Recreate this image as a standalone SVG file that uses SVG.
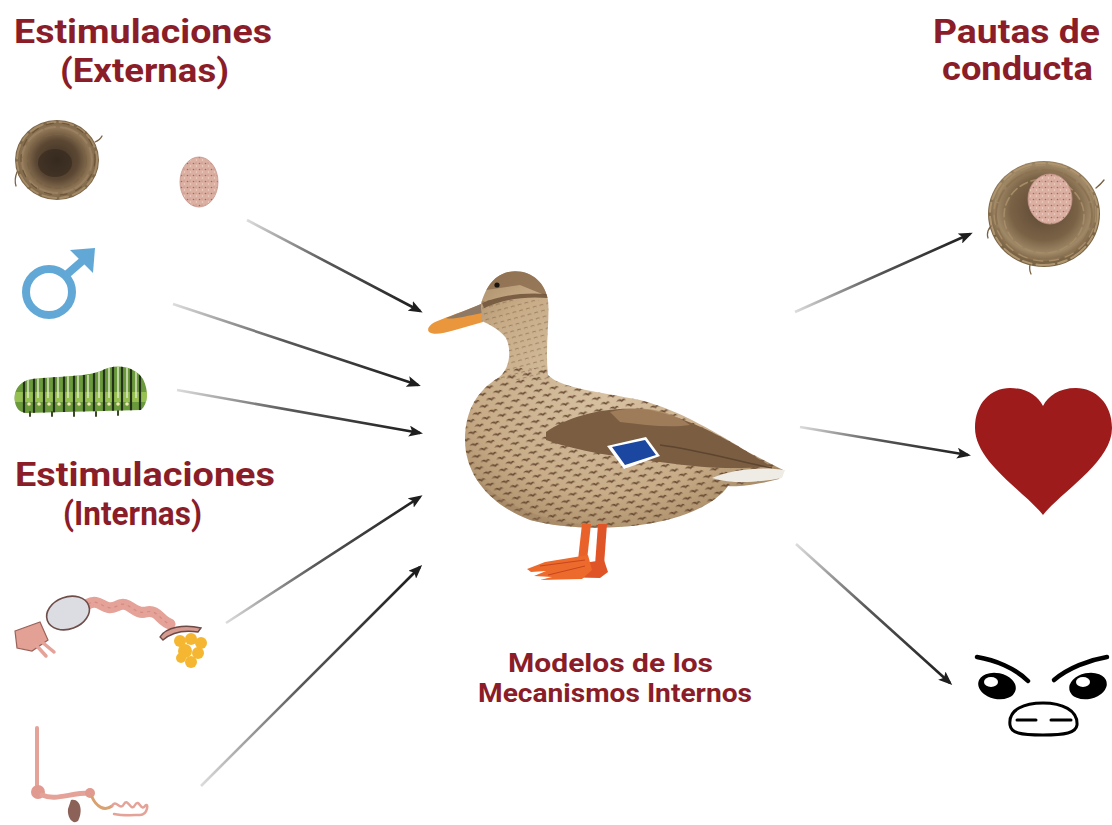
<svg xmlns="http://www.w3.org/2000/svg" width="1112" height="825" viewBox="0 0 1112 825">
  <style>
    .title { font-family: Roboto, "Liberation Sans", sans-serif; font-weight: 700; fill: #8a1d28; }
    .h1 { font-size: 33px; }
    .h2 { font-size: 26px; }
    .arrow { stroke-width: 2.6; fill: none; marker-end: url(#head); }
    .pink { stroke: #e4a298; fill: none; stroke-linecap: round; stroke-linejoin: round; }
  </style>
  <defs>
    <marker id="head" viewBox="0 0 14 11" refX="11" refY="5.5" markerWidth="14" markerHeight="11" markerUnits="userSpaceOnUse" orient="auto">
      <path d="M0,0 L14,5.5 L0,11 L3,5.5 Z" fill="#1e1e1e"/>
    </marker>
    <!-- connector fades: pale at the source, dark at the head -->
    <linearGradient id="g1" gradientUnits="userSpaceOnUse" x1="247" y1="220" x2="420" y2="311"><stop offset="0" stop-color="#dcdcdc"/><stop offset="0.45" stop-color="#5a5a5a"/><stop offset="1" stop-color="#1c1c1c"/></linearGradient>
    <linearGradient id="g2" gradientUnits="userSpaceOnUse" x1="173" y1="304" x2="418" y2="385"><stop offset="0" stop-color="#dcdcdc"/><stop offset="0.45" stop-color="#5a5a5a"/><stop offset="1" stop-color="#1c1c1c"/></linearGradient>
    <linearGradient id="g3" gradientUnits="userSpaceOnUse" x1="177" y1="390" x2="420" y2="433"><stop offset="0" stop-color="#dcdcdc"/><stop offset="0.45" stop-color="#5a5a5a"/><stop offset="1" stop-color="#1c1c1c"/></linearGradient>
    <linearGradient id="g4" gradientUnits="userSpaceOnUse" x1="226" y1="623" x2="420" y2="497"><stop offset="0" stop-color="#dcdcdc"/><stop offset="0.45" stop-color="#5a5a5a"/><stop offset="1" stop-color="#1c1c1c"/></linearGradient>
    <linearGradient id="g5" gradientUnits="userSpaceOnUse" x1="201" y1="786" x2="420" y2="567"><stop offset="0" stop-color="#dcdcdc"/><stop offset="0.45" stop-color="#5a5a5a"/><stop offset="1" stop-color="#1c1c1c"/></linearGradient>
    <linearGradient id="g6" gradientUnits="userSpaceOnUse" x1="795" y1="312" x2="970" y2="234"><stop offset="0" stop-color="#dcdcdc"/><stop offset="0.45" stop-color="#5a5a5a"/><stop offset="1" stop-color="#1c1c1c"/></linearGradient>
    <linearGradient id="g7" gradientUnits="userSpaceOnUse" x1="800" y1="427" x2="968" y2="455"><stop offset="0" stop-color="#dcdcdc"/><stop offset="0.45" stop-color="#5a5a5a"/><stop offset="1" stop-color="#1c1c1c"/></linearGradient>
    <linearGradient id="g8" gradientUnits="userSpaceOnUse" x1="796" y1="544" x2="950" y2="683"><stop offset="0" stop-color="#dcdcdc"/><stop offset="0.45" stop-color="#5a5a5a"/><stop offset="1" stop-color="#1c1c1c"/></linearGradient>

    <radialGradient id="nestFill" cx="0.5" cy="0.5" r="0.5">
      <stop offset="0" stop-color="#3e3024"/>
      <stop offset="0.5" stop-color="#5b4733"/>
      <stop offset="0.8" stop-color="#8f7656"/>
      <stop offset="1" stop-color="#7a6446"/>
    </radialGradient>
    <radialGradient id="nestFill2" cx="0.5" cy="0.45" r="0.5">
      <stop offset="0" stop-color="#5a4632"/>
      <stop offset="0.6" stop-color="#7a6246"/>
      <stop offset="0.85" stop-color="#9f8866"/>
      <stop offset="1" stop-color="#7a6446"/>
    </radialGradient>
    <pattern id="speckle" width="6" height="6" patternUnits="userSpaceOnUse">
      <rect width="6" height="6" fill="#dbb0a2"/>
      <circle cx="1.5" cy="1.5" r="0.8" fill="#a5685a"/>
      <circle cx="4.5" cy="4" r="0.7" fill="#f2d6cc"/>
      <circle cx="4" cy="1" r="0.5" fill="#b87a6a"/>
    </pattern>
    <radialGradient id="duckBody" cx="0.45" cy="0.45" r="0.6">
      <stop offset="0" stop-color="#d8c3a4"/>
      <stop offset="0.7" stop-color="#c8ac88"/>
      <stop offset="1" stop-color="#a98c68"/>
    </radialGradient>
    <pattern id="duckSpots" width="16" height="12" patternUnits="userSpaceOnUse" patternTransform="rotate(-10)">
      <path d="M1,5 Q4,1 7,4 Q9,1.5 11,4.5 Q8.5,3.5 7,6 Q4,3 1,5 Z" fill="#5f4029"/>
      <path d="M9,11 Q12,7 15,10 Q17,7.5 19,10.5 Q16.5,9.5 15,12 Q12,9 9,11 Z" fill="#5f4029"/>
      <path d="M-7,11 Q-4,7 -1,10 Q1,7.5 3,10.5 Q0.5,9.5 -1,12 Q-4,9 -7,11 Z" fill="#5f4029"/>
    </pattern>
    <pattern id="neckStreaks" width="7" height="6" patternUnits="userSpaceOnUse" patternTransform="rotate(-15)">
      <path d="M1,3 Q3,1.5 5,3" stroke="#7a5a3c" stroke-width="1" fill="none"/>
    </pattern>
    <clipPath id="duckClip">
      <path d="M481,304 C485,290 492,276 508,272 C530,268 545,282 548,300 C550,320 545,345 548,375 C560,388 600,392 640,400 C680,410 720,435 748,452 L783,470 L779,479 C760,484 740,487 728,486 C715,505 680,520 640,525 C600,530 560,528 530,520 C490,505 465,475 465,440 C465,410 478,390 498,378 C510,370 512,350 506,338 C498,328 488,324 482,321 Z"/>
    </clipPath>
    <clipPath id="catClip">
      <path d="M15,402 C13,390 20,381 32,379 C60,376 88,377 103,370 C114,364 134,365 143,379 C149,391 148,404 141,410 L26,413 C19,412 16,408 15,402 Z"/>
    </clipPath>
  </defs>

  <rect width="1112" height="825" fill="#ffffff"/>

  <!-- headings -->
  <g id="title-externas">
    <text class="title h1" x="14" y="43" textLength="258" lengthAdjust="spacingAndGlyphs">Estimulaciones</text>
    <text class="title h1" x="60" y="82" textLength="169" lengthAdjust="spacingAndGlyphs">(Externas)</text>
  </g>
  <g id="title-internas">
    <text class="title h1" x="15" y="486" textLength="260" lengthAdjust="spacingAndGlyphs">Estimulaciones</text>
    <text class="title h1" x="63" y="525" textLength="139" lengthAdjust="spacingAndGlyphs">(Internas)</text>
  </g>
  <g id="title-pautas">
    <text class="title h1" x="933" y="43" textLength="167" lengthAdjust="spacingAndGlyphs">Pautas de</text>
    <text class="title h1" x="942" y="80" textLength="151" lengthAdjust="spacingAndGlyphs">conducta</text>
  </g>
  <g id="label-modelos">
    <text class="title h2" x="508" y="672" textLength="205" lengthAdjust="spacingAndGlyphs">Modelos de los</text>
    <text class="title h2" x="478" y="702" textLength="274" lengthAdjust="spacingAndGlyphs">Mecanismos Internos</text>
  </g>

  <!-- empty nest -->
  <g id="nest">
    <ellipse cx="57" cy="160" rx="42" ry="40" fill="url(#nestFill)"/>
    <g fill="none" stroke-linecap="round">
      <ellipse cx="57" cy="160" rx="40" ry="38" stroke="#a48a66" stroke-width="2" stroke-dasharray="14 5 8 4"/>
      <ellipse cx="57" cy="160" rx="35" ry="33" stroke="#9a8060" stroke-width="2" stroke-dasharray="10 6 18 3"/>
      <ellipse cx="58" cy="159" rx="37" ry="36" stroke="#6d5638" stroke-width="1.2" stroke-dasharray="7 9"/>
      <ellipse cx="57" cy="161" rx="29" ry="27" stroke="#7a6244" stroke-width="1.5" stroke-dasharray="6 4"/>
      <path d="M17,172 Q14,180 16,186 M95,142 Q100,140 102,136" stroke="#7a6244" stroke-width="1.3"/>
    </g>
    <ellipse cx="55" cy="163" rx="17" ry="14" fill="#2f241b" opacity="0.55"/>
  </g>

  <!-- egg -->
  <g id="egg">
    <ellipse cx="199" cy="182" rx="19" ry="25" fill="url(#speckle)" stroke="#c4938a" stroke-width="0.8"/>
  </g>

  <!-- male symbol -->
  <g id="male" fill="none" stroke="#62a8d6" stroke-width="8">
    <circle cx="49" cy="292" r="23"/>
    <line x1="65" y1="276" x2="88" y2="256"/>
    <polygon points="70,250 95,248 93,273" fill="#62a8d6" stroke="none"/>
  </g>

  <!-- caterpillar -->
  <g id="caterpillar">
    <path d="M15,402 C13,390 20,381 32,379 C60,376 88,377 103,370 C114,364 134,365 143,379 C149,391 148,404 141,410 L26,413 C19,412 16,408 15,402 Z" fill="#6a9a3c"/>
    <g clip-path="url(#catClip)">
      <rect x="10" y="392" width="145" height="10" fill="#a9d05a" opacity="0.7"/>
      <g stroke="#24311a" stroke-width="2.2">
        <path d="M24,375 V415 M34,375 V415 M44,375 V415 M54,375 V415 M64,375 V415 M74,375 V415 M84,375 V415 M94,372 V415 M104,365 V415 M113,362 V415 M122,362 V415 M131,364 V415 M140,368 V415"/>
      </g>
      <g stroke="#e6eccf" stroke-width="1.4">
        <path d="M28,375 V398 M38,375 V398 M48,375 V398 M58,375 V398 M68,375 V398 M78,375 V398 M88,375 V398 M99,368 V398 M109,362 V398 M118,362 V398 M127,363 V398 M136,365 V398"/>
      </g>
      <g fill="#f0e6b0">
        <circle cx="29" cy="404" r="1.8"/><circle cx="39" cy="404" r="1.8"/><circle cx="49" cy="404" r="1.8"/><circle cx="59" cy="404" r="1.8"/><circle cx="69" cy="404" r="1.8"/><circle cx="79" cy="404" r="1.8"/><circle cx="89" cy="404" r="1.8"/><circle cx="99" cy="404" r="1.8"/><circle cx="109" cy="404" r="1.8"/><circle cx="118" cy="404" r="1.8"/><circle cx="127" cy="404" r="1.8"/>
      </g>
    </g>
    <g stroke="#3a4a22" stroke-width="2" stroke-linecap="round">
      <path d="M30,412 V416 M52,412 V416 M74,412 V416 M96,412 V416 M118,411 V415"/>
    </g>
  </g>

  <!-- ovary and oviduct -->
  <g id="ovary">
    <path d="M15,631 L40,622 L48,640 L32,651 L17,648 Z" fill="#e3a095" stroke="#9a6258" stroke-width="1.2"/>
    <g class="pink" stroke-width="3.5">
      <path d="M36,645 L46,656"/>
      <path d="M42,642 L54,652"/>
    </g>
    <path d="M88,604 C100,597 104,613 117,606 C129,599 133,615 146,612 C158,609 160,621 170,624" class="pink" stroke-width="11"/>
    <path d="M88,604 C100,597 104,613 117,606 C129,599 133,615 146,612 C158,609 160,621 170,624" fill="none" stroke="#d58b80" stroke-width="1.2" stroke-dasharray="3 4"/>
    <ellipse cx="68" cy="613" rx="22" ry="16" transform="rotate(-20 68 613)" fill="#dcdde3" stroke="#6e4c48" stroke-width="1.6"/>
    <path d="M160,637 C166,627 184,624 201,628 L198,632 C185,630 172,632 163,640 Z" fill="#d59a90" stroke="#6b4a46" stroke-width="1.4"/>
    <g fill="#f5b731">
      <circle cx="180" cy="641" r="6"/>
      <circle cx="191" cy="639" r="6"/>
      <circle cx="201" cy="643" r="6"/>
      <circle cx="185" cy="651" r="7"/>
      <circle cx="198" cy="653" r="6"/>
      <circle cx="191" cy="662" r="6"/>
      <circle cx="181" cy="658" r="5"/>
    </g>
  </g>

  <!-- digestive tract -->
  <g id="digestive">
    <path d="M37,728 V788" class="pink" stroke-width="4"/>
    <circle cx="38" cy="792" r="7" fill="#e09a90"/>
    <path d="M42,795 C55,801 70,793 89,793" class="pink" stroke-width="5"/>
    <circle cx="90" cy="793" r="5" fill="#e09a90"/>
    <path d="M71,800 C81,798 83,812 78,821 C73,825 67,818 68,809 Z" fill="#8c6258"/>
    <path d="M92,797 C96,806 104,812 112,806" fill="none" stroke="#d9a070" stroke-width="3" stroke-linecap="round"/>
    <path d="M112,806 C116,798 120,812 124,804 C128,797 131,813 135,805 C139,798 141,812 145,806 C149,801 148,815 140,815 C134,815 124,816 114,814" class="pink" stroke-width="2.5"/>
  </g>

  <!-- mallard hen -->
  <g id="duck">
    <!-- bill -->
    <path d="M481,304 C470,309 455,314 440,320 C431,323 426,328 429,332 C433,335 442,334 455,330 L483,322 Z" fill="#e9963c"/>
    <path d="M481,304 C470,309 458,313 446,318 C452,320 466,316 482,313 Z" fill="#8e7866"/>
    <!-- body -->
    <path d="M481,304 C485,290 492,276 508,272 C530,268 545,282 548,300 C550,320 545,345 548,375 C560,388 600,392 640,400 C680,410 720,435 748,452 L783,470 L779,479 C760,484 740,487 728,486 C715,505 680,520 640,525 C600,530 560,528 530,520 C490,505 465,475 465,440 C465,410 478,390 498,378 C510,370 512,350 506,338 C498,328 488,324 482,321 Z" fill="url(#duckBody)"/>
    <g clip-path="url(#duckClip)">
      <rect x="480" y="300" width="80" height="80" fill="url(#neckStreaks)" opacity="0.55"/>
      <rect x="460" y="368" width="330" height="170" fill="url(#duckSpots)" opacity="0.9"/>
      <!-- head and neck tones -->
      <path d="M486,290 C492,276 505,270 520,271 C535,273 545,283 547,296 L520,285 Z" fill="#8a6c4c" opacity="0.8"/>
      <path d="M482,303 C500,296 520,292 548,294 L548,298 C522,296 502,300 484,308 Z" fill="#6e5238" opacity="0.85"/>
      <!-- wing -->
      <path d="M546,432 C570,415 610,405 650,410 C690,418 730,440 770,466 C740,470 700,468 660,462 C620,457 580,452 546,440 Z" fill="#7b5d42"/>
      <path d="M610,412 C640,404 670,410 690,425 C670,428 645,425 620,422 Z" fill="#a8845f" opacity="0.8"/>
      <path d="M660,445 C700,450 740,462 772,468" stroke="#5e4530" stroke-width="1.5" fill="none"/>
      <!-- underside shading -->
      <path d="M470,470 C500,510 560,530 640,526 C690,520 720,505 730,486 L730,535 L460,535 Z" fill="#9c7f5e" opacity="0.35"/>
    </g>
    <!-- speculum -->
    <path d="M607,446 L646,437 L660,456 L624,469 Z" fill="#ffffff"/>
    <path d="M612,447 L645,440 L656,455 L625,465 Z" fill="#1c47a0"/>
    <!-- tail feathers -->
    <path d="M712,478 C730,470 760,466 785,470 L782,478 C760,482 735,485 712,478 Z" fill="#efece6"/>
    <!-- eye -->
    <circle cx="497" cy="285" r="2.6" fill="#1a1410"/>
    <!-- legs and feet -->
    <path d="M582,524 L591,524 L587,560 L578,560 Z" fill="#e8622a"/>
    <path d="M598,524 L607,524 L604,565 L595,565 Z" fill="#df5528"/>
    <path d="M604,560 L562,566 L548,570 L552,573 L566,572 L556,577 L600,578 L608,572 Z" fill="#df5528"/>
    <path d="M588,555 L545,562 L527,569 L531,572 L546,571 L534,576 L552,577 L540,580 L582,579 L592,570 Z" fill="#ec6a2c"/>
    <path d="M585,560 L540,566 M585,566 L548,575" stroke="#c8461e" stroke-width="1"/>
  </g>

  <!-- nest with egg -->
  <g id="nest-egg">
    <ellipse cx="1044" cy="214" rx="56" ry="53" fill="url(#nestFill2)"/>
    <g fill="none" stroke-linecap="round">
      <ellipse cx="1044" cy="214" rx="54" ry="51" stroke="#b09670" stroke-width="2" stroke-dasharray="18 5 9 4"/>
      <ellipse cx="1044" cy="215" rx="48" ry="45" stroke="#8c7250" stroke-width="2" stroke-dasharray="12 5 20 3"/>
      <ellipse cx="1045" cy="213" rx="51" ry="48" stroke="#a58b66" stroke-width="1.4" stroke-dasharray="9 7"/>
      <ellipse cx="1044" cy="216" rx="40" ry="37" stroke="#a58b66" stroke-width="1.6" stroke-dasharray="8 4"/>
      <path d="M991,226 Q986,232 988,238 M1096,188 Q1101,184 1104,180 M1030,265 Q1029,270 1031,274" stroke="#7a6244" stroke-width="1.3"/>
    </g>
    <ellipse cx="1050" cy="199" rx="22" ry="25" fill="url(#speckle)" stroke="#c4938a" stroke-width="0.8"/>
  </g>

  <!-- heart -->
  <g id="heart">
    <path d="M1043,515 C1025,492 975,462 975,428 C975,403 991,388 1010,388 C1027,388 1038,396 1043,406 C1048,396 1059,388 1076,388 C1095,388 1112,403 1112,428 C1112,462 1061,492 1043,515 Z" fill="#9e1b1c"/>
  </g>

  <!-- angry face -->
  <g id="angry">
    <path d="M977,657 C995,660 1015,668 1028,681" fill="none" stroke="#000" stroke-width="4.5" stroke-linecap="round"/>
    <path d="M1107,657 C1089,660 1068,668 1054,680" fill="none" stroke="#000" stroke-width="4.5" stroke-linecap="round"/>
    <ellipse cx="997" cy="686" rx="19" ry="13" transform="rotate(12 997 686)" fill="#000"/>
    <ellipse cx="1088" cy="686" rx="19" ry="13" transform="rotate(-12 1088 686)" fill="#000"/>
    <ellipse cx="991" cy="682" rx="7" ry="5" fill="#fff"/>
    <ellipse cx="1083" cy="682" rx="7" ry="5" fill="#fff"/>
    <path d="M1010,725 C1008,709 1025,703 1043,703 C1062,703 1078,710 1077,725 C1076,733 1065,735 1043,735 C1020,735 1011,733 1010,725 Z" fill="#fff" stroke="#000" stroke-width="3"/>
    <path d="M1017,720 H1036 M1051,720 H1071" stroke="#000" stroke-width="3" stroke-linecap="round"/>
  </g>

  <!-- connectors -->
  <g id="connectors">
    <line class="arrow" x1="247" y1="220" x2="420" y2="311" stroke="url(#g1)"/>
    <line class="arrow" x1="173" y1="304" x2="418" y2="385" stroke="url(#g2)"/>
    <line class="arrow" x1="177" y1="390" x2="420" y2="433" stroke="url(#g3)"/>
    <line class="arrow" x1="226" y1="623" x2="420" y2="497" stroke="url(#g4)"/>
    <line class="arrow" x1="201" y1="786" x2="420" y2="567" stroke="url(#g5)"/>
    <line class="arrow" x1="795" y1="312" x2="970" y2="234" stroke="url(#g6)"/>
    <line class="arrow" x1="800" y1="427" x2="968" y2="455" stroke="url(#g7)"/>
    <line class="arrow" x1="796" y1="544" x2="950" y2="683" stroke="url(#g8)"/>
  </g>
</svg>
